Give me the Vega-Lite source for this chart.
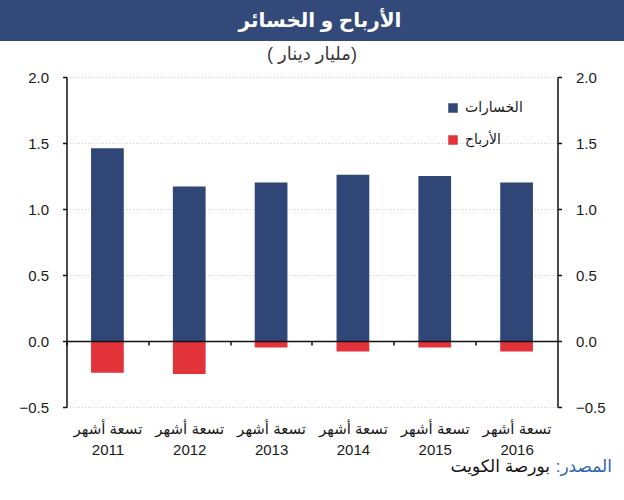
{
  "$schema": "https://vega.github.io/schema/vega-lite/v6.json",
  "padding": 0,
  "spacing": 36,
  "bounds": "flush",
  "center": true,
  "background": "white",
  "config": {
    "view": {"stroke": null},
    "font": "Liberation Sans, DejaVu Sans, sans-serif"
  },
  "vconcat": [
    {
      "width": 624,
      "height": 41,
      "view": {"fill": "#33497a", "stroke": null},
      "data": {"values": [{"heading": "الأرباح و الخسائر"}]},
      "mark": {"type": "text", "color": "white", "fontSize": 20, "fontWeight": "bold", "baseline": "middle", "align": "center", "dx": 8},
      "encoding": {"text": {"field": "heading"}}
    },
    {
      "width": 491,
      "height": 330,
      "title": {
        "text": "‏(مليار دينار )‏",
        "fontSize": 18,
        "fontWeight": "normal",
        "color": "#3a3a3a",
        "anchor": "middle",
        "offset": 6
      },
      "data": {
        "values": [
          {"period": "2011", "series": "الخسارات", "value": 1.46},
          {"period": "2012", "series": "الخسارات", "value": 1.17},
          {"period": "2013", "series": "الخسارات", "value": 1.20},
          {"period": "2014", "series": "الخسارات", "value": 1.26},
          {"period": "2015", "series": "الخسارات", "value": 1.25},
          {"period": "2016", "series": "الخسارات", "value": 1.20},
          {"period": "2011", "series": "الأرباح", "value": -0.24},
          {"period": "2012", "series": "الأرباح", "value": -0.25},
          {"period": "2013", "series": "الأرباح", "value": -0.05},
          {"period": "2014", "series": "الأرباح", "value": -0.08},
          {"period": "2015", "series": "الأرباح", "value": -0.05},
          {"period": "2016", "series": "الأرباح", "value": -0.08}
        ]
      },
      "encoding": {
        "x": {
          "field": "period",
          "type": "nominal",
          "sort": null,
          "scale": {"paddingInner": 0.6, "paddingOuter": 0.3},
          "axis": {
            "title": null,
            "offset": -66,
            "zindex": 1,
            "domainColor": "#111111",
            "domainWidth": 1.5,
            "tickOffset": -41,
            "labelOffset": 41,
            "tickColor": "#111111",
            "tickSize": 4,
            "tickWidth": 1.5,
            "labelAngle": 0,
            "labelPadding": 76,
            "labelBaseline": "top",
            "labelFontSize": 15,
            "labelLineHeight": 21,
            "labelColor": "#1a1a1a",
            "labelExpr": "['تسعة أشهر', datum.value]"
          }
        },
        "color": {
          "field": "series",
          "type": "nominal",
          "scale": {"domain": ["الخسارات", "الأرباح"], "range": ["#2f4676", "#e2323a"]},
          "legend": {
            "title": null,
            "orient": "none",
            "direction": "vertical",
            "legendX": 446,
            "legendY": 101,
            "padding": 0,
            "symbolType": "square",
            "symbolSize": 90,
            "symbolStrokeWidth": 0,
            "labelFontSize": 14,
            "labelColor": "#1a1a1a",
            "labelOffset": 5,
            "rowPadding": 18
          }
        }
      },
      "layer": [
        {
          "transform": [{"filter": "datum.series === 'الخسارات'"}],
          "mark": {"type": "bar"},
          "encoding": {
            "y": {
              "field": "value",
              "type": "quantitative",
              "stack": null,
              "scale": {"domain": [-0.5, 2.0], "nice": false, "zero": false},
              "axis": {
                "title": null,
                "orient": "left",
                "values": [-0.5, 0, 0.5, 1, 1.5, 2],
                "format": ".1f",
                "domainColor": "#111111",
                "domainWidth": 1.5,
                "tickColor": "#111111",
                "tickSize": 4,
                "tickWidth": 1.5,
                "labelFontSize": 15,
                "labelColor": "#1a1a1a",
                "labelPadding": 14,
                "grid": true,
                "gridColor": "#d2c8c8",
                "gridDash": [1, 2],
                "gridWidth": 1
              }
            }
          }
        },
        {
          "transform": [{"filter": "datum.series === 'الأرباح'"}],
          "mark": {"type": "bar"},
          "encoding": {
            "y": {
              "field": "value",
              "type": "quantitative",
              "stack": null,
              "scale": {"domain": [-0.5, 2.0], "nice": false, "zero": false},
              "axis": {
                "title": null,
                "orient": "right",
                "values": [-0.5, 0, 0.5, 1, 1.5, 2],
                "format": ".1f",
                "domainColor": "#111111",
                "domainWidth": 1.5,
                "tickColor": "#111111",
                "tickSize": 4,
                "tickWidth": 1.5,
                "labelFontSize": 15,
                "labelColor": "#1a1a1a",
                "labelPadding": 14,
                "grid": false
              }
            }
          }
        }
      ],
      "resolve": {"axis": {"y": "independent"}}
    },
    {
      "width": 624,
      "height": 48,
      "data": {"values": [{"key": "المصدر:‏", "source": "بورصة الكويت"}]},
      "layer": [
        {
          "mark": {"type": "text", "align": "right", "baseline": "middle", "fontSize": 17, "color": "#2d62ad", "dx": 300},
          "encoding": {"text": {"field": "key"}}
        },
        {
          "mark": {"type": "text", "align": "right", "baseline": "middle", "fontSize": 17, "color": "#111111", "dx": 238},
          "encoding": {"text": {"field": "source"}}
        }
      ]
    }
  ]
}
